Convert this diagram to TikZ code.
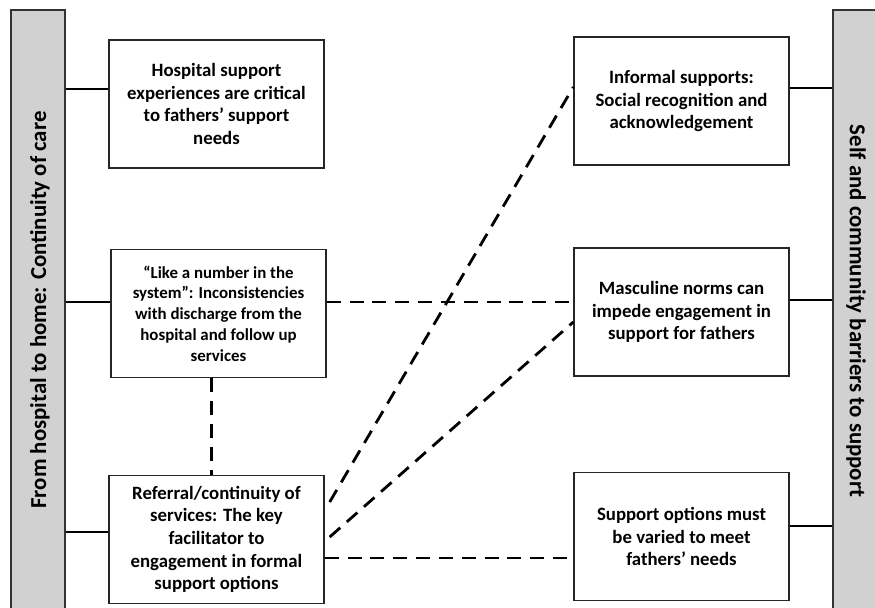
\documentclass[tikz,border=0pt]{standalone}
\usepackage{fontspec}
\setmainfont{Carlito}
\usetikzlibrary{positioning}

\begin{document}
\begin{tikzpicture}[x=0.02cm, y=-0.02cm]
    \tikzset{
        theme/.style = {rectangle, draw=black!85, fill=white, line width=0.8pt, minimum width=4.3cm, minimum height=2.56cm, align=center, font=\fontsize{10.7}{12.9}\selectfont\bfseries},
        bar/.style = {rectangle, draw=black!80, fill=black!18, line width=0.8pt},
        bartext/.style = {font=\fontsize{13}{15}\selectfont\bfseries},
        link/.style = {draw=black, line width=1.6pt},
        dashlink/.style = {draw=black, line width=1.6pt, dash pattern=on 8pt off 5pt},
    }
    \useasboundingbox (0,0) rectangle (875,608);

    % side bars
    \node[bar, minimum width=1.08cm, minimum height=12.4cm](home) at (38,320){};
    \node[bartext, rotate=90](hometext) at (40,310){From hospital to home: Continuity of care};
    \node[bar, minimum width=0.9cm, minimum height=12.4cm](barriers) at (855.5,320){};
    \node[bartext, rotate=-90](barrierstext) at (856,311){Self and community barriers to support};

    % left column
    \node[theme](hospital) at (216.5,104){Hospital support\\experiences are critical\\to fathers’ support\\needs};
    \node[theme, font=\fontsize{9.6}{11.8}\selectfont\bfseries](number) at (218.5,313.5){“Like a number in the\\system”: Inconsistencies\\with discharge from the\\hospital and follow up\\services};
    \node[theme](referral) at (216.5,539.5){Referral/continuity of\\services: The key\\facilitator to\\engagement in formal\\support options};

    % right column
    \node[theme](informal) at (681.5,101){Informal supports:\\Social recognition and\\acknowledgement};
    \node[theme](masculine) at (681.5,312){Masculine norms can\\impede engagement in\\support for fathers};
    \node[theme](options) at (681.5,536.5){Support options must\\be varied to meet\\fathers’ needs};

    % solid links to the bars
    \path [link] ([yshift=0.3cm]hospital.west) -- ([yshift=0.3cm]hospital.west -| home.east);
    \path [link] ([yshift=0.23cm]number.west) -- ([yshift=0.23cm]number.west -| home.east);
    \path [link] ([yshift=0.15cm]referral.west) -- ([yshift=0.15cm]referral.west -| home.east);
    \path [link] ([yshift=0.26cm]informal.east) -- ([yshift=0.26cm]informal.east -| barriers.west);
    \path [link] ([yshift=0.24cm]masculine.east) -- ([yshift=0.24cm]masculine.east -| barriers.west);
    \path [link] ([yshift=0.21cm]options.east) -- ([yshift=0.21cm]options.east -| barriers.west);

    % dashed links between themes
    \path [dashlink] ([yshift=0.23cm]number.east) -- ([yshift=0.23cm]number.east -| masculine.west);
    \path [dashlink] ([xshift=-0.14cm]number.south) -- ([xshift=-0.14cm]number.south |- referral.north);
    \path [dashlink] ([xshift=0.1cm, yshift=0.75cm]referral.east) -- ([yshift=0.28cm]informal.west);
    \path [dashlink] ([xshift=0.1cm, yshift=0.05cm]referral.east) -- ([yshift=-0.2cm]masculine.west);
    \path [dashlink] ([yshift=-0.37cm]referral.east) -- ([yshift=-0.37cm]referral.east -| options.west);

\end{tikzpicture}
\end{document}
